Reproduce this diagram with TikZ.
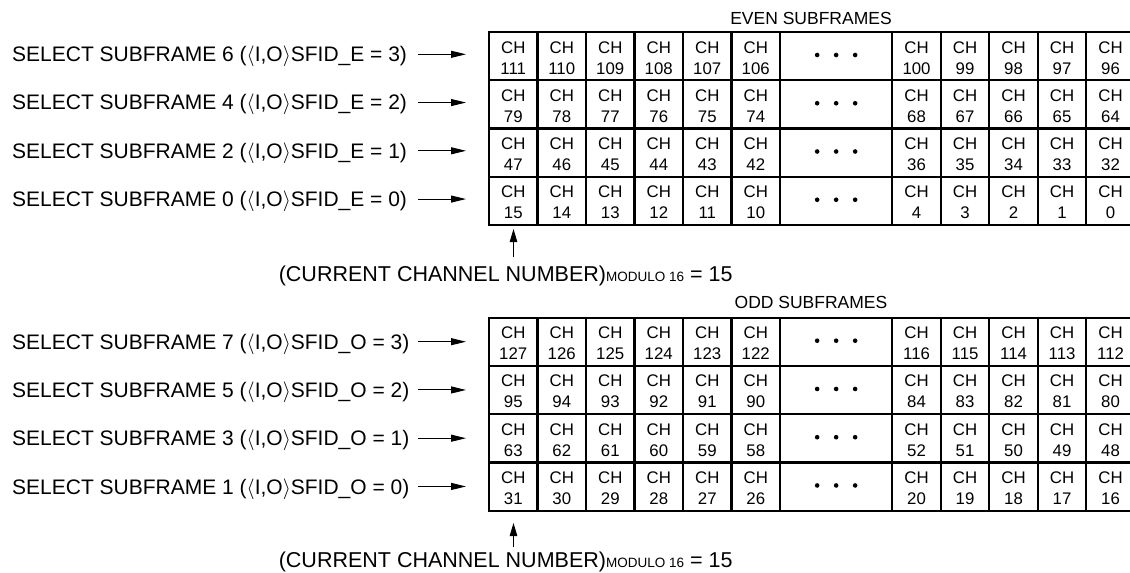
\documentclass[tikz,border=0pt]{standalone}
\usepackage{fontspec}
\setmainfont{Liberation Sans}
\usetikzlibrary{arrows.meta}
\newcommand\drawsubtable[3]{%
  \foreach \r in {0,...,3} {
    \pgfmathsetmacro\rt{#2+48.25*\r}
    \pgfmathtruncatemacro\b{#3-32*\r}
    \foreach \k in {0,...,5} {
      \pgfmathsetmacro\cx{489+48.5*\k+24.25}
      \pgfmathtruncatemacro\n{\b+15-\k}
      \node[cellbox] (#1-\r-\k) at (\cx,\rt+24.125) {};
      \node[celltxt] (#1-\r-\k-a) at (\cx,\rt+21) {CH};
      \node[celltxt] (#1-\r-\k-b) at (\cx,\rt+42) {\n};
    }
    \node[cellbox, minimum width=112.3pt] (#1-\r-d) at (836.15,\rt+24.125) {};
    \foreach \dx in {-19,0,19} \fill (836.15+\dx,\rt+23) circle[radius=2.3];
    \foreach \k in {0,...,4} {
      \pgfmathsetmacro\cx{892.3+48.5*\k+24.25}
      \pgfmathtruncatemacro\n{\b+4-\k}
      \node[cellbox] (#1-\r-r\k) at (\cx,\rt+24.125) {};
      \node[celltxt] (#1-\r-r\k-a) at (\cx,\rt+21) {CH};
      \node[celltxt] (#1-\r-r\k-b) at (\cx,\rt+42) {\n};
    }
  }%
}
\begin{document}
\begin{tikzpicture}[x=1pt,y=-1pt,
  cellbox/.style={draw, line width=2.1pt, minimum width=48.5pt, minimum height=48.25pt, inner sep=0pt, outer sep=0pt},
  celltxt/.style={anchor=base, inner sep=0pt, font=\fontsize{16.8}{18}\selectfont},
  headtxt/.style={anchor=base, inner sep=0pt, font=\fontsize{17.5}{20}\selectfont},
  lbl/.style={anchor=base west, inner sep=0pt, font=\fontsize{21}{24}\selectfont},
  modtxt/.style={anchor=base west, inner sep=0pt, font=\fontsize{21.5}{24}\selectfont},
  conn/.style={line width=1pt, -{Triangle[length=15pt,width=7pt]}},
  upconn/.style={line width=1pt, -{Triangle[length=13pt,width=7.5pt]}}]
\useasboundingbox (0,0) rectangle (1130,573);

% headings
\node[headtxt] (evenh) at (811,24) {EVEN SUBFRAMES};
\node[headtxt] (oddh) at (811,308.3) {ODD SUBFRAMES};

% tables
\drawsubtable{e}{32}{96}
\drawsubtable{o}{317.7}{112}

% left labels (even)
\node[lbl] (le0) at (12,61.7) {SELECT SUBFRAME 6 ($\langle$I,O$\rangle$SFID\_E = 3)};
\node[lbl] (le1) at (12,109.95) {SELECT SUBFRAME 4 ($\langle$I,O$\rangle$SFID\_E = 2)};
\node[lbl] (le2) at (12,158.2) {SELECT SUBFRAME 2 ($\langle$I,O$\rangle$SFID\_E = 1)};
\node[lbl] (le3) at (12,206.45) {SELECT SUBFRAME 0 ($\langle$I,O$\rangle$SFID\_E = 0)};
% left labels (odd)
\node[lbl] (lo0) at (12,349.3) {SELECT SUBFRAME 7 ($\langle$I,O$\rangle$SFID\_O = 3)};
\node[lbl] (lo1) at (12,397.55) {SELECT SUBFRAME 5 ($\langle$I,O$\rangle$SFID\_O = 2)};
\node[lbl] (lo2) at (12,445.8) {SELECT SUBFRAME 3 ($\langle$I,O$\rangle$SFID\_O = 1)};
\node[lbl] (lo3) at (12,494.05) {SELECT SUBFRAME 1 ($\langle$I,O$\rangle$SFID\_O = 0)};

% arrows
\foreach \i/\y in {0/54.3,1/102.55,2/150.8,3/199.05} {
  \coordinate (ae\i s) at (418,\y);
  \coordinate (ae\i e) at (466,\y);
  \draw[conn] (ae\i s) -- (ae\i e);
}
\foreach \i/\y in {0/341.7,1/389.95,2/438.2,3/486.45} {
  \coordinate (ao\i s) at (418,\y);
  \coordinate (ao\i e) at (466,\y);
  \draw[conn] (ao\i s) -- (ao\i e);
}

% modulo notes
\node[modtxt] (mode) at (278.6,281.4) {(CURRENT CHANNEL NUMBER){\fontsize{13.5}{14}\selectfont MODULO 16} = 15};
\node[modtxt] (modo) at (278.6,567.5) {(CURRENT CHANNEL NUMBER){\fontsize{13.5}{14}\selectfont MODULO 16} = 15};
\coordinate (upes) at (513.5,257);
\coordinate (upee) at (513.5,229);
\draw[upconn] (upes) -- (upee);
\coordinate (upos) at (513.5,547);
\coordinate (upoe) at (513.5,523);
\draw[upconn] (upos) -- (upoe);
\end{tikzpicture}
\end{document}
